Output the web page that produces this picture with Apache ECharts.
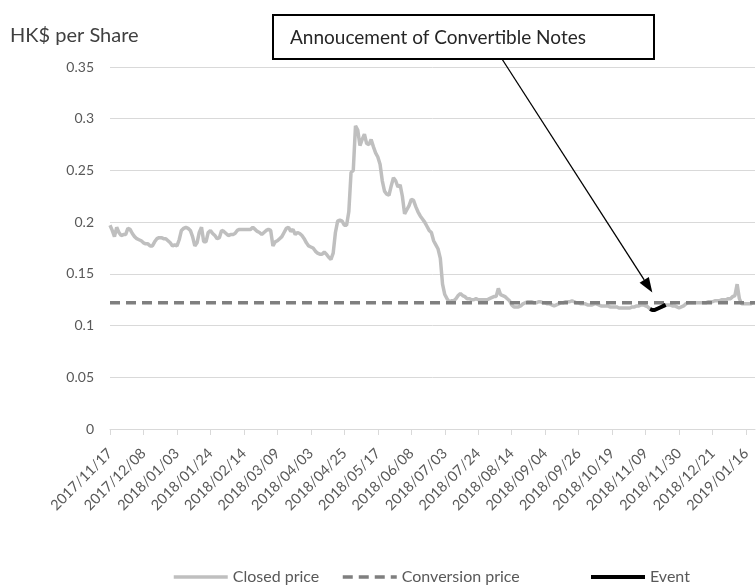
<!DOCTYPE html>
<html>
<head>
<meta charset="utf-8">
<script src="https://cdn.jsdelivr.net/npm/echarts@6/dist/echarts.min.js"></script>
<style>
html,body{margin:0;padding:0;background:#fff;}
#chart{width:756px;height:586px;}
</style>
</head>
<body>
<div id="chart"></div>
<script>
// HK trading days per month (shown period)
const tradingDays = [
  ['2017/11', [17,20,21,22,23,24,27,28,29,30]],
  ['2017/12', [1,4,5,6,7,8,11,12,13,14,15,18,19,20,21,22,27,28,29]],
  ['2018/01', [2,3,4,5,8,9,10,11,12,15,16,17,18,19,22,23,24,25,26,29,30,31]],
  ['2018/02', [1,2,5,6,7,8,9,12,13,14,15,20,21,22,23,26,27,28]],
  ['2018/03', [1,2,5,6,7,8,9,12,13,14,15,16,19,20,21,22,23,26,27,28,29]],
  ['2018/04', [3,4,6,9,10,11,12,13,16,17,18,19,20,23,24,25,26,27,30]],
  ['2018/05', [2,3,4,7,8,9,10,11,14,15,16,17,18,21,23,24,25,28,29,30,31]],
  ['2018/06', [1,4,5,6,7,8,11,12,13,14,15,19,20,21,22,25,26,27,28,29]],
  ['2018/07', [3,4,5,6,9,10,11,12,13,16,17,18,19,20,23,24,25,26,27,30,31]],
  ['2018/08', [1,2,3,6,7,8,9,10,13,14,15,16,17,20,21,22,23,24,27,28,29,30,31]],
  ['2018/09', [3,4,5,6,7,10,11,12,13,14,17,18,19,20,21,24,26,27,28]],
  ['2018/10', [2,3,4,5,8,9,10,11,12,15,16,18,19,22,23,24,25,26,29,30,31]],
  ['2018/11', [1,2,5,6,7,8,9,12,13,14,15,16,19,20,21,22,23,26,27,28,29,30]],
  ['2018/12', [3,4,5,6,7,10,11,12,13,14,17,18,19,20,21,24,27,28,31]],
  ['2019/01', [2,3,4,7,8,9,10,11,14,15,16,17,18,21,22]]
];
const categories = [];
tradingDays.forEach(([m, days]) => days.forEach(d => categories.push(m + '/' + String(d).padStart(2, '0'))));

const closedPrice = [
  0.197,0.192,0.186,0.195,0.190,0.187,0.188,0.188,0.194,0.193,
  0.189,0.186,0.184,0.183,0.182,0.180,0.179,0.179,0.177,0.177,
  0.181,0.184,0.185,0.185,0.184,0.184,0.182,0.180,0.177,0.178,
  0.177,0.183,0.192,0.194,0.195,0.194,0.192,0.186,0.177,0.180,
  0.190,0.195,0.181,0.181,0.190,0.192,0.189,0.187,0.184,0.185,
  0.192,0.191,0.189,0.187,0.188,0.188,0.189,0.192,0.193,0.193,
  0.193,0.193,0.193,0.193,0.195,0.193,0.191,0.190,0.188,0.190,
  0.192,0.193,0.192,0.177,0.181,0.182,0.184,0.186,0.190,0.194,
  0.195,0.191,0.193,0.188,0.190,0.189,0.187,0.184,0.180,0.177,
  0.176,0.175,0.172,0.170,0.169,0.169,0.171,0.169,0.166,0.164,
  0.170,0.190,0.201,0.202,0.201,0.197,0.197,0.210,0.248,0.250,
  0.293,0.289,0.274,0.280,0.285,0.276,0.275,0.280,0.273,0.267,
  0.263,0.256,0.240,0.230,0.227,0.226,0.235,0.243,0.240,0.234,
  0.236,0.225,0.208,0.212,0.216,0.222,0.221,0.215,0.210,0.206,
  0.203,0.200,0.196,0.192,0.190,0.182,0.178,0.174,0.165,0.140,
  0.130,0.126,0.123,0.124,0.124,0.126,0.129,0.131,0.129,0.128,
  0.126,0.126,0.125,0.125,0.126,0.125,0.125,0.125,0.125,0.125,
  0.126,0.127,0.128,0.128,0.136,0.130,0.129,0.128,0.126,0.124,
  0.120,0.118,0.118,0.118,0.119,0.121,0.122,0.123,0.123,0.123,
  0.122,0.122,0.123,0.123,0.122,0.122,0.121,0.121,0.120,0.119,
  0.120,0.121,0.122,0.122,0.123,0.123,0.123,0.124,0.123,0.122,
  0.122,0.121,0.121,0.121,0.120,0.120,0.120,0.121,0.121,0.120,
  0.119,0.119,0.119,0.119,0.118,0.118,0.118,0.118,0.117,0.117,
  0.117,0.117,0.117,0.117,0.118,0.118,0.119,0.119,0.120,0.120,
  0.119,0.118,0.116,0.115,0.115,0.116,0.117,0.118,0.119,0.120,
  0.120,0.120,0.119,0.119,0.118,0.117,0.118,0.119,0.121,0.122,
  0.122,0.122,0.122,0.122,0.122,0.122,0.122,0.122,0.123,0.123,
  0.123,0.124,0.124,0.124,0.125,0.125,0.125,0.126,0.126,0.128,
  0.129,0.140,0.126,0.121,0.121,0.121,0.121,0.121,0.122,0.122
];

const conversionPrice = 0.122;

const eventDates = ['2018/11/13','2018/11/14','2018/11/15','2018/11/16','2018/11/19','2018/11/20','2018/11/21','2018/11/22'];
const eventValues = [0.116,0.115,0.115,0.116,0.117,0.118,0.119,0.120];

const yTicks = [0, 0.05, 0.1, 0.15, 0.2, 0.25, 0.3, 0.35];

const seriesNames = ['Closed price', 'Conversion price', 'Event'];

const annotationText = 'Annoucement of Convertible Notes';
const annotationTarget = ['2018/11/14', 0.132];

const FONT = 'Lato';
const chart = echarts.init(document.getElementById('chart'), null, {renderer: 'canvas'});

const legendLefts = [167, 336, 584];
const legendLineWidths = [3.5, 3.5, 4];
const legendBase = {
  top: 564, itemWidth: 54, itemHeight: 12,
  itemStyle: {opacity: 0},
  textStyle: {fontFamily: FONT, fontSize: 16, color: '#595959'}
};

const option = {
  backgroundColor: '#fff',
  animation: false,
  title: {
    text: 'HK$ per Share',
    left: 5, top: 21,
    textStyle: {fontFamily: FONT, fontSize: 20, fontWeight: 'normal', color: '#404040'}
  },
  grid: {left: 110, right: 1, top: 67, bottom: 157},
  legend: seriesNames.map((n, i) => Object.assign({}, legendBase, {
    left: legendLefts[i], data: [n], lineStyle: {width: legendLineWidths[i]}
  })),
  xAxis: {
    type: 'category',
    data: categories,
    boundaryGap: false,
    axisLine: {lineStyle: {color: '#d9d9d9', width: 1}},
    axisTick: {interval: 14, length: 6, lineStyle: {color: '#d9d9d9'}},
    axisLabel: {
      interval: 14, rotate: 45, margin: 22,
      fontFamily: FONT, fontSize: 14.5, color: '#595959'
    },
    splitLine: {show: false}
  },
  yAxis: {
    type: 'value',
    min: yTicks[0], max: yTicks[yTicks.length - 1], interval: 0.05,
    axisLine: {show: false},
    axisTick: {show: false},
    axisLabel: {
      margin: 16, fontFamily: FONT, fontSize: 14, color: '#595959',
      formatter: v => String(parseFloat(v.toFixed(2)))
    },
    splitLine: {lineStyle: {color: '#d9d9d9', width: 1}}
  },
  series: [
    {
      name: seriesNames[0], type: 'line', data: closedPrice,
      symbol: 'none', showSymbol: false,
      lineStyle: {color: '#bfbfbf', width: 3.5},
      itemStyle: {color: '#bfbfbf'},
      z: 2
    },
    {
      name: seriesNames[1], type: 'line',
      data: [[categories[0], conversionPrice], [categories[categories.length - 1], conversionPrice]],
      symbol: 'none', showSymbol: false,
      lineStyle: {color: '#7f7f7f', width: 3.5, type: [10, 6]},
      itemStyle: {color: '#7f7f7f'},
      z: 3
    },
    {
      name: seriesNames[2], type: 'line',
      data: eventDates.map((d, i) => [d, eventValues[i]]),
      symbol: 'none', showSymbol: false,
      lineStyle: {color: '#000000', width: 4},
      itemStyle: {color: '#000000'},
      z: 4
    }
  ]
};
chart.setOption(option);

// annotation callout
const box = {x: 273, y: 15, w: 381, h: 44};
const start = [502, box.y + box.h];
const tip = chart.convertToPixel({xAxisIndex: 0, yAxisIndex: 0}, annotationTarget);
const dx = tip[0] - start[0], dy = tip[1] - start[1];
const len = Math.sqrt(dx * dx + dy * dy);
const ux = dx / len, uy = dy / len;
const headLen = 15, headHalf = 5.5;
const bx = tip[0] - ux * headLen, by = tip[1] - uy * headLen;
const nx = -uy, ny = ux;

chart.setOption({
  graphic: [
    {
      type: 'line', z: 100,
      shape: {x1: start[0], y1: start[1], x2: bx, y2: by},
      style: {stroke: '#000', lineWidth: 1.3}
    },
    {
      type: 'polygon', z: 100,
      shape: {points: [[tip[0], tip[1]], [bx + nx * headHalf, by + ny * headHalf], [bx - nx * headHalf, by - ny * headHalf]]},
      style: {fill: '#000'}
    },
    {
      type: 'rect', z: 101,
      shape: {x: box.x, y: box.y, width: box.w, height: box.h},
      style: {fill: '#fff', stroke: '#000', lineWidth: 2}
    },
    {
      type: 'text', z: 102,
      x: 290, y: box.y + box.h / 2 + 1,
      style: {text: annotationText, fontFamily: FONT, fontSize: 19, fill: '#262626', verticalAlign: 'middle', align: 'left'}
    }
  ]
});
</script>
</body>
</html>
